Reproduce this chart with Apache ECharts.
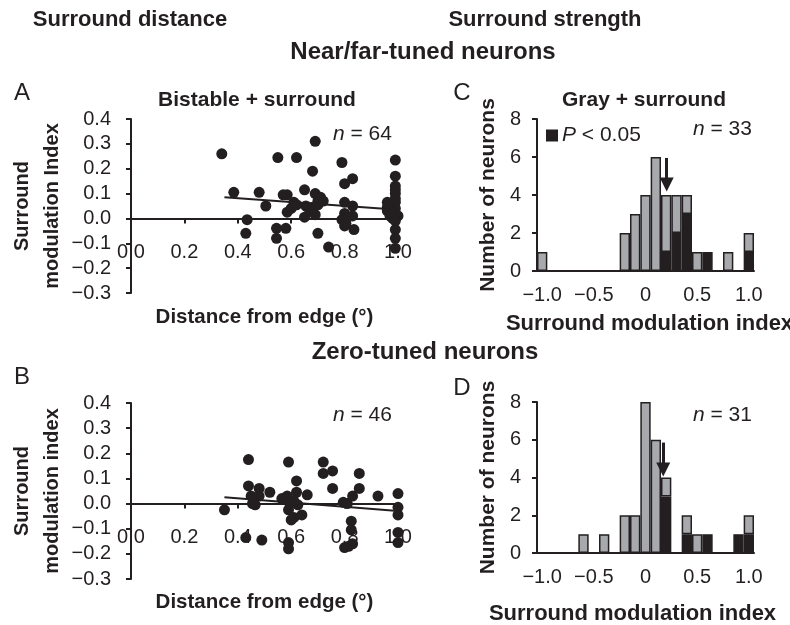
<!DOCTYPE html>
<html>
<head>
<meta charset="utf-8">
<script src="https://cdn.jsdelivr.net/npm/echarts@6/dist/echarts.min.js"></script>
<style>
  html, body { margin: 0; padding: 0; background: #fff; }
  #chart { width: 790px; height: 625px; }
</style>
</head>
<body>
<div id="chart"></div>
<script>
// panel A: bistable + surround, near/far-tuned (distance from edge, SMI)
const pointsA = [
  [0.34, 0.26], [0.69, 0.31], [0.55, 0.245], [0.62, 0.245], [0.79, 0.225], [0.99, 0.235],
  [0.68, 0.19], [0.83, 0.16], [0.80, 0.14], [0.99, 0.17], [0.99, 0.13], [0.99, 0.10],
  [0.385, 0.105], [0.48, 0.105], [0.57, 0.095], [0.585, 0.095], [0.65, 0.115], [0.69, 0.10],
  [0.70, 0.07], [0.505, 0.05], [0.61, 0.065], [0.60, 0.04], [0.585, 0.025], [0.655, 0.05],
  [0.68, 0.045], [0.70, 0.055], [0.67, 0.03], [0.65, 0.005], [0.69, 0.015], [0.80, 0.065],
  [0.83, 0.05], [0.80, 0.02], [0.83, 0.01], [0.79, -0.005], [0.805, -0.02], [0.835, -0.045],
  [0.80, -0.03], [0.435, -0.005], [0.43, -0.06], [0.545, -0.04], [0.58, -0.04], [0.545, -0.08],
  [0.70, -0.06], [0.74, -0.115], [0.96, 0.065], [0.96, 0.03], [0.99, 0.065], [0.99, 0.04],
  [0.99, 0.02], [0.98, 0.00], [0.99, -0.045], [0.99, -0.08], [0.99, -0.12], [0.97, 0.05],
  [0.99, 0.08], [0.97, 0.01], [1.0, 0.01], [0.96, 0.045], [0.99, 0.115], [0.72, 0.07],
  [0.71, 0.085], [0.62, 0.055], [0.99, -0.01], [0.97, 0.02]
]
const fitA = [[0.35, 0.085], [1.0, 0.035]]

// panel B: zero-tuned
const pointsB = [
  [0.35, -0.025], [0.44, 0.175], [0.44, 0.07], [0.45, 0.03], [0.455, 0.0], [0.465, -0.005],
  [0.48, 0.06], [0.48, 0.03], [0.52, 0.045], [0.43, -0.135], [0.49, -0.145], [0.59, 0.165],
  [0.585, 0.03], [0.59, -0.025], [0.595, 0.0], [0.61, -0.055], [0.62, 0.09], [0.62, 0.045],
  [0.625, -0.005], [0.64, -0.045], [0.66, 0.035], [0.59, -0.155], [0.59, -0.18], [0.72, 0.165],
  [0.72, 0.12], [0.755, 0.13], [0.755, 0.06], [0.795, 0.005], [0.81, 0.0], [0.83, 0.03],
  [0.855, 0.12], [0.855, 0.06], [0.925, 0.03], [0.825, -0.07], [0.825, -0.105], [0.80, -0.175],
  [0.815, -0.17], [0.83, -0.16], [1.0, 0.04], [1.0, -0.015], [1.0, -0.045], [1.0, -0.115],
  [1.0, -0.155], [0.60, -0.065], [0.565, 0.02], [0.61, 0.01]
]
const fitB = [[0.35, 0.025], [1.0, -0.03]]

// panels C, D: histogram bins of surround modulation index
const bins = [-1.0, -0.9, -0.8, -0.7, -0.6, -0.5, -0.4, -0.3, -0.2, -0.1, 0,
  0.1, 0.2, 0.3, 0.4, 0.5, 0.6, 0.7, 0.8, 0.9, 1.0]
const sigC    = [0, 0, 0, 0, 0, 0, 0, 0, 0, 0, 0, 0, 1, 2, 3, 0, 1, 0, 0, 0, 1]
const nonsigC = [1, 0, 0, 0, 0, 0, 0, 0, 2, 3, 4, 6, 3, 2, 1, 1, 0, 0, 1, 0, 1]
const sigD    = [0, 0, 0, 0, 0, 0, 0, 0, 0, 0, 0, 0, 3, 0, 1, 0, 1, 0, 0, 1, 1]
const nonsigD = [0, 0, 0, 0, 1, 0, 1, 0, 2, 2, 8, 6, 1, 0, 1, 1, 0, 0, 0, 0, 1]
// mean arrows: [x, shaft top, head]
const meanC = [0.205, 5.95, 4.55]
const meanD = [0.172, 5.85, 4.42]

const FONT = 'Liberation Sans, Arial, Helvetica, sans-serif'
const INK = '#231f20'
const GRAY = '#a7a9ac'

const SMI_MIN = -0.3
const SMI_MAX = 0.4
const gridA = { left: 131, top: 119, width: 267, height: 174 }
const gridB = { left: 131, top: 403, width: 267, height: 176 }

const chart = echarts.init(document.getElementById('chart'))

const smiLabel = v => (v < 0 ? '\u2212' : '') + Math.abs(v).toFixed(1)
const binLabel = v => {
  const n = Number(v)
  return n === 0 ? '0' : (n < 0 ? '\u2212' : '') + Math.abs(n).toFixed(1)
}
const nz = arr => arr.map(v => (v ? v : null))

const axisBase = {
  axisLine: { onZero: false, lineStyle: { color: INK, width: 2 } },
  axisTick: { lineStyle: { color: INK, width: 2 }, length: 5 },
  splitLine: { show: false },
  axisLabel: { color: INK, fontSize: 20, fontFamily: FONT }
}

// x axis of the scatter panels sits on the y = 0 line
const scatterX = (grid, g) => ({
  ...axisBase,
  gridIndex: grid, type: 'value', min: 0, max: 1, interval: 0.2,
  position: 'bottom',
  offset: -g.height * (0 - SMI_MIN) / (SMI_MAX - SMI_MIN),
  axisLabel: { ...axisBase.axisLabel, margin: 24, formatter: v => v.toFixed(1) },
  name: 'Distance from edge (\u00b0)', nameLocation: 'middle', nameGap: 88,
  nameTextStyle: { color: INK, fontSize: 20.5, fontWeight: 'bold', fontFamily: FONT }
})
const scatterY = (grid, name) => ({
  ...axisBase,
  gridIndex: grid, type: 'value', min: SMI_MIN, max: SMI_MAX, interval: 0.1,
  axisLabel: { ...axisBase.axisLabel, margin: 20, formatter: smiLabel },
  name, nameLocation: 'middle', nameGap: 64,
  nameTextStyle: { color: INK, fontSize: 20, fontWeight: 'bold', fontFamily: FONT, lineHeight: 30 }
})
const histX = (grid, gap, pad) => ({
  ...axisBase,
  gridIndex: grid, type: 'category', data: bins.map(String),
  axisTick: { ...axisBase.axisTick, interval: 0 },
  axisLabel: { ...axisBase.axisLabel, interval: 4, margin: 14, formatter: binLabel },
  name: 'Surround modulation index', nameLocation: 'middle', nameGap: gap,
  nameTextStyle: { color: INK, fontSize: 22, fontWeight: 'bold', fontFamily: FONT, padding: pad }
})
const histY = (grid) => ({
  ...axisBase,
  gridIndex: grid, type: 'value', min: 0, max: 8, interval: 2,
  axisLabel: { ...axisBase.axisLabel, margin: 16 },
  name: 'Number of neurons', nameLocation: 'middle', nameGap: 38,
  nameTextStyle: { color: INK, fontSize: 21, fontWeight: 'bold', fontFamily: FONT }
})
const meanAxis = (grid) => ({ gridIndex: grid, type: 'value', min: -1.05, max: 1.05, show: false })

const arrow = (xi, yi, m) => ({
  type: 'line', xAxisIndex: xi, yAxisIndex: yi, data: [[m[0], m[2]]], showSymbol: false,
  silent: true,
  markLine: {
    silent: true, symbol: ['none', 'triangle'], symbolSize: 14,
    label: { show: false },
    lineStyle: { color: INK, width: 3, type: 'solid' },
    emphasis: { disabled: true },
    data: [[{ coord: [m[0], m[1]] }, { coord: [m[0], m[2]] }]]
  }
})

const text = (str, x, y, size, weight, align) => ({
  type: 'text', x, y,
  style: {
    text: str, fill: INK, fontSize: size, fontWeight: weight || 'normal', fontFamily: FONT,
    align: align || 'center', verticalAlign: 'middle',
    rich: {
      i: { fontStyle: 'italic', fontSize: size, fontFamily: FONT, fill: INK }
    }
  }
})

const noBounds = { outerBoundsMode: 'none', containLabel: false }

const option = {
  animation: false,
  backgroundColor: '#fff',
  grid: [
    { ...gridA, ...noBounds },
    { ...gridB, ...noBounds },
    { left: 537, top: 119, width: 217, height: 152, ...noBounds },
    { left: 537, top: 402, width: 217, height: 151, ...noBounds }
  ],
  xAxis: [
    scatterX(0, gridA), scatterX(1, gridB),
    histX(2, 42, [0, 0, 0, 8]), histX(3, 50, [0, 26, 0, 0]),
    meanAxis(2), meanAxis(3)
  ],
  yAxis: [
    scatterY(0, 'Surround\nmodulation Index'),
    scatterY(1, 'Surround\nmodulation index'),
    histY(2), histY(3)
  ],
  legend: {
    data: [{ name: 'sig', icon: 'rect' }], left: 546, top: 125, itemWidth: 10, itemHeight: 10,
    selectedMode: false, padding: 0,
    formatter: () => '{i|P} < 0.05',
    textStyle: {
      color: INK, fontSize: 21, fontFamily: FONT,
      rich: { i: { fontStyle: 'italic', fontSize: 21, fontFamily: FONT, color: INK } }
    }
  },
  graphic: [
    text('Surround distance', 130, 20, 22, 'bold'),
    text('Surround strength', 545, 20, 22, 'bold'),
    text('Near/far-tuned neurons', 423, 52, 24, 'bold'),
    text('Zero-tuned neurons', 425, 352, 24, 'bold'),
    text('A', 22, 93, 24), text('B', 22, 377, 24),
    text('C', 462, 93, 24), text('D', 462, 388, 24),
    text('Bistable + surround', 257, 100, 21, 'bold'),
    text('Gray + surround', 644, 100, 21, 'bold'),
    text('{i|n} = 64', 333, 134, 21, 'normal', 'left'),
    text('{i|n} = 46', 333, 415, 21, 'normal', 'left'),
    text('{i|n} = 33', 693, 129, 21, 'normal', 'left'),
    text('{i|n} = 31', 693, 415, 21, 'normal', 'left')
  ],
  series: [
    { type: 'scatter', xAxisIndex: 0, yAxisIndex: 0, data: pointsA, symbolSize: 11,
      itemStyle: { color: INK, opacity: 1 } },
    { type: 'line', xAxisIndex: 0, yAxisIndex: 0, data: fitA, symbol: 'none',
      lineStyle: { color: INK, width: 2 } },
    { type: 'scatter', xAxisIndex: 1, yAxisIndex: 1, data: pointsB, symbolSize: 11,
      itemStyle: { color: INK, opacity: 1 } },
    { type: 'line', xAxisIndex: 1, yAxisIndex: 1, data: fitB, symbol: 'none',
      lineStyle: { color: INK, width: 2 } },
    { name: 'sig', type: 'bar', xAxisIndex: 2, yAxisIndex: 2, stack: 'c', data: nz(sigC),
      barCategoryGap: '0%', itemStyle: { color: INK, borderColor: INK, borderWidth: 1.5 } },
    { name: 'nonsig', type: 'bar', xAxisIndex: 2, yAxisIndex: 2, stack: 'c', data: nz(nonsigC),
      barCategoryGap: '0%', itemStyle: { color: GRAY, borderColor: INK, borderWidth: 1.5 } },
    { name: 'sig', type: 'bar', xAxisIndex: 3, yAxisIndex: 3, stack: 'd', data: nz(sigD),
      barCategoryGap: '0%', itemStyle: { color: INK, borderColor: INK, borderWidth: 1.5 } },
    { name: 'nonsig', type: 'bar', xAxisIndex: 3, yAxisIndex: 3, stack: 'd', data: nz(nonsigD),
      barCategoryGap: '0%', itemStyle: { color: GRAY, borderColor: INK, borderWidth: 1.5 } },
    arrow(4, 2, meanC),
    arrow(5, 3, meanD)
  ]
}

chart.setOption(option)
window.addEventListener('resize', () => chart.resize())
</script>
</body>
</html>
